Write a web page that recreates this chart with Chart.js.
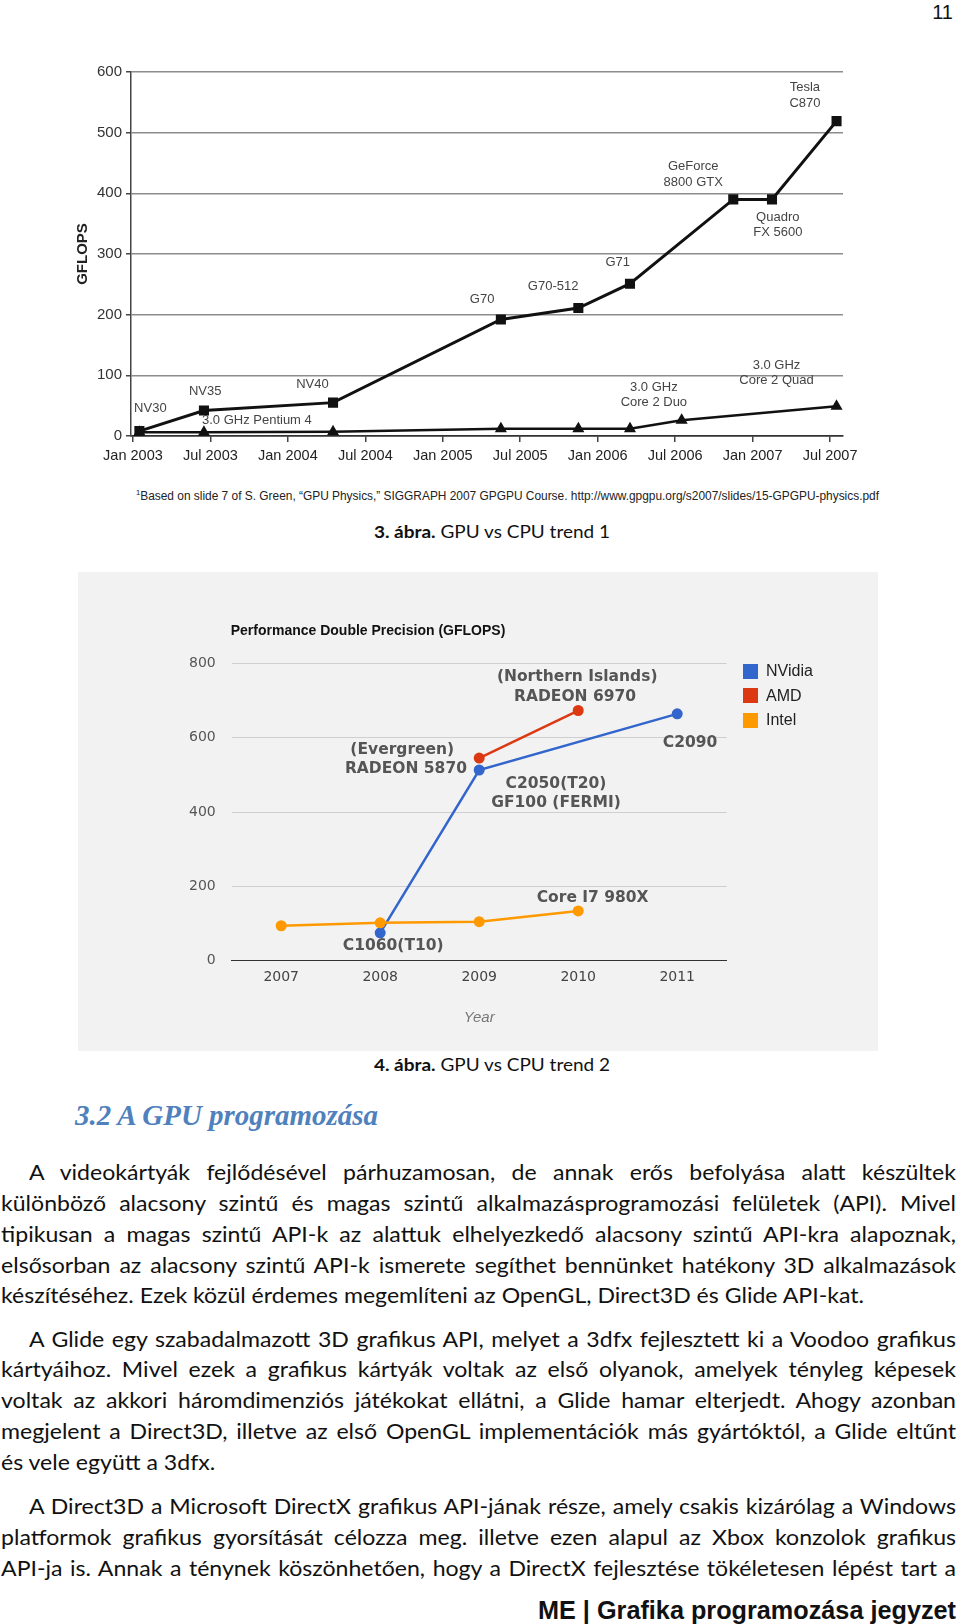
<!DOCTYPE html>
<html lang="hu">
<head>
<meta charset="utf-8">
<title>GPU vs CPU trend</title>
<script src="https://cdn.jsdelivr.net/npm/chart.js@4.4.1/dist/chart.umd.min.js"></script>
<style>
	html, body { margin: 0; padding: 0; background: #fff; }
	body { width: 960px; height: 1624px; position: relative; overflow: hidden; color: #111; font-family: Lato, 'Open Sans', sans-serif; }
	.abs { position: absolute; white-space: nowrap; transform-origin: 0 50%; }
	#chart1 { position: absolute; left: 0; top: 0; }
	#chart2 { position: absolute; left: 78px; top: 572px; background: #f2f2f2; }
	.page-no { right: 7px; top: 0; font: 20px 'Liberation Sans', Arial, sans-serif; line-height: 25px; }
	.footnote { font: 12.5px 'Liberation Sans Narrow', 'Liberation Sans', sans-serif; line-height: 16px; color: #222; }
	.footnote sup { font-size: 8px; }
	.caption { font-size: 17px; line-height: 22px; }
	.caption b { font-weight: 700; }
	.heading { font: italic bold 29px 'Liberation Serif', serif; color: #4f81bd; line-height: 34px; }
	.body-line { font-size: 20.5px; line-height: 31px; color: #111; }
	.footer { font: bold 26px 'Liberation Sans Narrow', 'Liberation Sans', sans-serif; line-height: 30px; }
	.legend { position: absolute; left: 743px; top: 659px; }
	.legend-row { display: flex; align-items: center; height: 24.5px; font: 16px 'Liberation Sans', Arial, sans-serif; color: #222; }
	.legend-swatch { width: 15px; height: 15px; margin-right: 8px; }
</style>
</head>
<body>
<div class="abs page-no">11</div>
<canvas id="chart1" width="960" height="480"></canvas>
<canvas id="chart2" width="800" height="479"></canvas>
<div class="legend"></div>

<script>
// chart 1 - x is months counted from Jan 2003
const tickMonths = [0, 6, 12, 18, 24, 30, 36, 42, 48, 54];
const tickLabels = ['Jan 2003', 'Jul 2003', 'Jan 2004', 'Jul 2004', 'Jan 2005', 'Jul 2005', 'Jan 2006', 'Jul 2006', 'Jan 2007', 'Jul 2007'];
const gpuMonths = [0.5, 5.5, 15.5, 28.5, 34.5, 38.5, 46.5, 49.5, 54.5];
const gpuGflops = [8, 42, 55, 192, 211, 251, 390, 390, 519];
const cpuMonths = [0.5, 5.5, 15.5, 28.5, 34.5, 38.5, 42.5, 54.5];
const cpuGflops = [6, 6, 7, 12, 12, 12, 26, 49];

const trendNotes = [
	{ text: 'NV30', x: 1.35, y: 46 },
	{ text: 'NV35', x: 5.6, y: 73 },
	{ text: 'NV40', x: 13.9, y: 85 },
	{ text: '3.0 GHz Pentium 4', x: 9.6, y: 26 },
	{ text: 'G70', x: 27.05, y: 225 },
	{ text: 'G70-512', x: 32.55, y: 247 },
	{ text: 'G71', x: 37.55, y: 286 },
	{ text: 'GeForce', x: 43.4, y: 444 },
	{ text: '8800 GTX', x: 43.4, y: 418 },
	{ text: 'Quadro', x: 49.95, y: 361 },
	{ text: 'FX 5600', x: 49.95, y: 336 },
	{ text: 'Tesla', x: 52.05, y: 574 },
	{ text: 'C870', x: 52.05, y: 549 },
	{ text: '3.0 GHz', x: 40.35, y: 80 },
	{ text: 'Core 2 Duo', x: 40.35, y: 55 },
	{ text: '3.0 GHz', x: 49.85, y: 117 },
	{ text: 'Core 2 Quad', x: 49.85, y: 91 },
];

// chart 2
const years = ['2007', '2008', '2009', '2010', '2011'];
const nvidia = [null, 75, 513, null, 664];
const amd = [null, null, 545, 673, null];
const intel = [94, 102, 105, 134, null];

const vendorNotes = [
	{ text: '(Evergreen)', x: 1.223, y: 567 },
	{ text: 'RADEON 5870', x: 1.26, y: 515 },
	{ text: 'C1060(T10)', x: 1.132, y: 40 },
	{ text: '(Northern Islands)', x: 2.99, y: 764 },
	{ text: 'RADEON 6970', x: 2.968, y: 710 },
	{ text: 'C2050(T20)', x: 2.776, y: 475 },
	{ text: 'GF100 (FERMI)', x: 2.776, y: 423 },
	{ text: 'C2090', x: 4.13, y: 585 },
	{ text: 'Core I7 980X', x: 3.146, y: 170 },
];

const colors = { nvidia: '#3366cc', amd: '#dc3912', intel: '#ff9900' };

// draws text notes at data positions, plus an optional heading over the plot
function noteLabels(items, font, color, heading) {
	return {
		id: 'noteLabels',
		afterDatasetsDraw(chart) {
			const { ctx, chartArea, scales: { x, y } } = chart;
			ctx.save();
			ctx.font = font;
			ctx.fillStyle = color;
			ctx.textAlign = 'center';
			ctx.textBaseline = 'middle';
			items.forEach((item) => {
				ctx.fillText(item.text, x.getPixelForValue(item.x), y.getPixelForValue(item.y));
			});
			if (heading) {
				ctx.font = heading.font;
				ctx.fillStyle = heading.color;
				ctx.textAlign = 'left';
				ctx.fillText(heading.text, chartArea.left - 1, chartArea.top - 32);
			}
			ctx.restore();
		},
	};
}

const sans = "'Liberation Sans', Arial, sans-serif";

new Chart(document.getElementById('chart1'), {
	type: 'line',
	data: {
		datasets: [
			{
				label: 'GPU',
				data: gpuMonths.map((m, i) => ({ x: m, y: gpuGflops[i] })),
				borderColor: '#111',
				backgroundColor: '#111',
				borderWidth: 3,
				pointStyle: 'rect',
				pointRadius: 5,
			},
			{
				label: 'CPU',
				data: cpuMonths.map((m, i) => ({ x: m, y: cpuGflops[i] })),
				borderColor: '#111',
				backgroundColor: '#111',
				borderWidth: 2.5,
				pointStyle: 'triangle',
				pointRadius: 4.5,
			},
		],
	},
	options: {
		responsive: false,
		animation: false,
		layout: { autoPadding: false, padding: { top: 72, right: 117, left: 0, bottom: 0 } },
		plugins: { legend: { display: false }, tooltip: { enabled: false } },
		scales: {
			x: {
				type: 'linear',
				min: -0.15,
				max: 55,
				afterBuildTicks: (scale) => { scale.ticks = tickMonths.map((v) => ({ value: v })); },
				afterFit: (scale) => { scale.height = 44; },
				ticks: {
					callback: (v, i) => tickLabels[i],
					autoSkip: false,
					maxRotation: 0,
					padding: 5,
					color: '#222',
					font: { family: sans, size: 14.5 },
				},
				grid: { drawOnChartArea: false, drawTicks: true, tickLength: 6, tickColor: '#444', lineWidth: 1.5 },
				border: { color: '#333', width: 1.5 },
			},
			y: {
				min: 0,
				max: 600,
				afterFit: (scale) => { scale.width = 131; },
				ticks: { stepSize: 100, padding: 4, color: '#333', font: { family: sans, size: 15 } },
				grid: { color: (c) => (c.tick && c.tick.value === 0 ? '#333' : '#8c8c8c'), lineWidth: 1.5, tickLength: 5, tickColor: '#444' },
				border: { color: '#444', width: 1.5 },
				title: {
					display: true,
					text: 'GFLOPS',
					color: '#222',
					font: { family: sans, size: 15, weight: 'bold' },
					padding: { top: 74, bottom: 0 },
				},
			},
		},
	},
	plugins: [noteLabels(trendNotes, "13px 'Liberation Sans', Arial, sans-serif", '#444')],
});

const dejavu = "'DejaVu Sans', sans-serif";

new Chart(document.getElementById('chart2'), {
	type: 'line',
	data: {
		labels: years,
		datasets: [
			{ label: 'NVidia', data: nvidia, borderColor: colors.nvidia, backgroundColor: colors.nvidia, spanGaps: true, order: 2 },
			{ label: 'AMD', data: amd, borderColor: colors.amd, backgroundColor: colors.amd, order: 1 },
			{ label: 'Intel', data: intel, borderColor: colors.intel, backgroundColor: colors.intel, order: 0 },
		],
	},
	options: {
		responsive: false,
		animation: false,
		layout: { autoPadding: false, padding: { top: 91.3, right: 151.3, left: 0, bottom: 0 } },
		elements: {
			line: { borderWidth: 2.5 },
			point: { radius: 5.5, borderWidth: 0 },
		},
		plugins: { legend: { display: false }, tooltip: { enabled: false } },
		scales: {
			x: {
				offset: true,
				afterFit: (scale) => { scale.height = 90.3; },
				ticks: { padding: 8, color: '#444', font: { family: dejavu, size: 14 } },
				grid: { drawOnChartArea: false, drawTicks: false, offset: true },
				border: { color: '#333', width: 1 },
				title: {
					display: true,
					text: 'Year',
					color: '#777',
					font: { family: sans, size: 15, style: 'italic' },
					padding: { top: 0, bottom: 24 },
				},
			},
			y: {
				min: 0,
				max: 800,
				afterFit: (scale) => { scale.width = 153.7; },
				ticks: { stepSize: 200, padding: 16, color: '#555', font: { family: dejavu, size: 14 } },
				grid: { color: (c) => (c.tick && c.tick.value === 0 ? '#333' : '#cfcfcf'), lineWidth: 1, drawTicks: false },
				border: { display: false },
			},
		},
	},
	plugins: [noteLabels(vendorNotes, "bold 15.5px 'DejaVu Sans', sans-serif", '#555', {
		text: 'Performance Double Precision (GFLOPS)',
		font: "bold 14px 'Liberation Sans', Arial, sans-serif",
		color: '#111',
	})],
});

const legendItems = [
	{ name: 'NVidia', color: colors.nvidia },
	{ name: 'AMD', color: colors.amd },
	{ name: 'Intel', color: colors.intel },
];

const legendBox = document.querySelector('.legend');

legendItems.forEach((item) => {
	const row = document.createElement('div');
	row.setAttribute('class', 'legend-row');

	const swatch = document.createElement('span');
	swatch.setAttribute('class', 'legend-swatch');
	swatch.style.backgroundColor = item.color;

	const label = document.createElement('span');
	label.textContent = item.name;

	row.appendChild(swatch);
	row.appendChild(label);
	legendBox.appendChild(row);
});

// page text
function addText(cls, html, left, centerY, lineHeight) {
	const el = document.createElement('div');
	el.className = 'abs ' + cls;
	el.innerHTML = html;
	el.style.left = left + 'px';
	el.style.top = (centerY - lineHeight / 2) + 'px';
	document.body.appendChild(el);
	return el;
}

function fitWidth(el, width) {
	const w = el.getBoundingClientRect().width;
	el.style.transform = `scaleX(${width / w})`;
}

fitWidth(addText('footnote', '<sup>1</sup>Based on slide 7 of S. Green, \u201cGPU Physics,\u201d SIGGRAPH 2007 GPGPU Course. http://www.gpgpu.org/s2007/slides/15-GPGPU-physics.pdf', 135.7, 493, 16), 743);
fitWidth(addText('caption', '<b>3. ábra.</b> GPU vs CPU trend 1', 374, 532, 22), 236);
fitWidth(addText('caption', '<b>4. ábra.</b> GPU vs CPU trend 2', 374, 1064.6, 22), 236);
fitWidth(addText('heading', '3.2 A GPU programozása', 74.6, 1115, 34), 303);
fitWidth(addText('footer', 'ME | Grafika programozása jegyzet', 537.5, 1610, 30), 418);

const paragraphs = [
	{
		top: 1172.3,
		lines: [
			'A videokártyák fejlődésével párhuzamosan, de annak erős befolyása alatt készültek',
			'különböző alacsony szintű és magas szintű alkalmazásprogramozási felületek (API). Mivel',
			'tipikusan a magas szintű API-k az alattuk elhelyezkedő alacsony szintű API-kra alapoznak,',
			'elsősorban az alacsony szintű API-k ismerete segíthet bennünket hatékony 3D alkalmazások',
			'készítéséhez. Ezek közül érdemes megemlíteni az OpenGL, Direct3D és Glide API-kat.',
		],
		ends: true,
	},
	{
		top: 1339,
		lines: [
			'A Glide egy szabadalmazott 3D grafikus API, melyet a 3dfx fejlesztett ki a Voodoo grafikus',
			'kártyáihoz. Mivel ezek a grafikus kártyák voltak az első olyanok, amelyek tényleg képesek',
			'voltak az akkori háromdimenziós játékokat ellátni, a Glide hamar elterjedt. Ahogy azonban',
			'megjelent a Direct3D, illetve az első OpenGL implementációk más gyártóktól, a Glide eltűnt',
			'és vele együtt a 3dfx.',
		],
		ends: true,
	},
	{
		top: 1506.8,
		lines: [
			'A Direct3D a Microsoft DirectX grafikus API-jának része, amely csakis kizárólag a Windows',
			'platformok grafikus gyorsítását célozza meg. illetve ezen alapul az Xbox konzolok grafikus',
			'API-ja is. Annak a ténynek köszönhetően, hogy a DirectX fejlesztése tökéletesen lépést tart a',
		],
		ends: false,
	},
];

const textLeft = 1;
const textRight = 956;
const indent = 28;
const lineStep = 30.9;

const placed = [];
paragraphs.forEach((p) => {
	p.lines.forEach((text, i) => {
		const left = textLeft + (i === 0 ? indent : 0);
		const el = addText('body-line', '', left, p.top + i * lineStep, 31);
		el.textContent = text;
		placed.push({ el, left, text, last: p.ends && i === p.lines.length - 1, w: 0 });
	});
});
placed.forEach((l) => { l.w = l.el.getBoundingClientRect().width; });

// horizontal squeeze so the first paragraph's last line ends where it does on the page
const sx = 863 / placed[4].w;
placed.forEach((l) => {
	const target = textRight - l.left;
	if (l.last) {
		l.el.style.transform = `scaleX(${sx})`;
		return;
	}
	const scaled = l.w * sx;
	const spaces = (l.text.match(/ /g) || []).length;
	if (scaled <= target && spaces > 0) {
		l.el.style.wordSpacing = ((target - scaled) / sx / spaces) + 'px';
		l.el.style.transform = `scaleX(${sx})`;
	} else {
		l.el.style.transform = `scaleX(${target / l.w})`;
	}
});
</script>
</body>
</html>
